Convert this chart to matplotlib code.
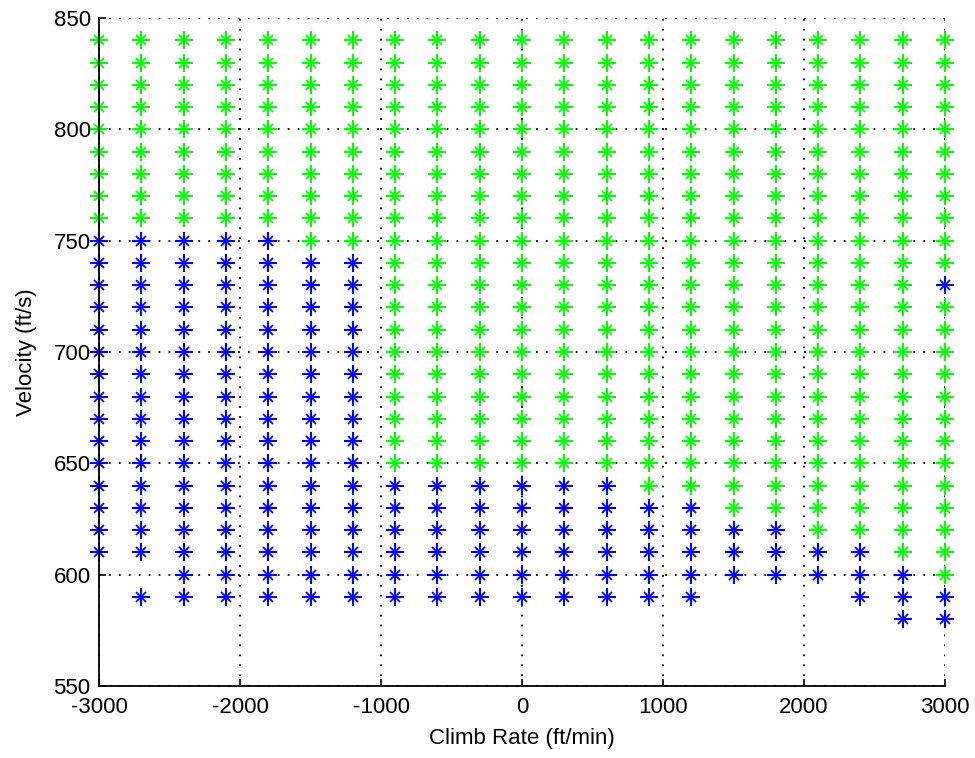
import matplotlib
matplotlib.use("Agg")
import matplotlib.pyplot as plt

# Climb rates (columns) and velocities (rows) of the evaluated grid
climb_rates = [-3000, -2700, -2400, -2100, -1800, -1500, -1200, -900, -600, -300,
               0, 300, 600, 900, 1200, 1500, 1800, 2100, 2400, 2700, 3000]
velocities = [840, 830, 820, 810, 800, 790, 780, 770, 760, 750, 740, 730, 720, 710,
              700, 690, 680, 670, 660, 650, 640, 630, 620, 610, 600, 590, 580]

# Status of each grid point: G = green, B = blue, . = no point
status_rows = [
    "GGGGGGGGGGGGGGGGGGGGG",  # 840
    "GGGGGGGGGGGGGGGGGGGGG",  # 830
    "GGGGGGGGGGGGGGGGGGGGG",  # 820
    "GGGGGGGGGGGGGGGGGGGGG",  # 810
    "GGGGGGGGGGGGGGGGGGGGG",  # 800
    "GGGGGGGGGGGGGGGGGGGGG",  # 790
    "GGGGGGGGGGGGGGGGGGGGG",  # 780
    "GGGGGGGGGGGGGGGGGGGGG",  # 770
    "GGGGGGGGGGGGGGGGGGGGG",  # 760
    "BBBBBGGGGGGGGGGGGGGGG",  # 750
    "BBBBBBBGGGGGGGGGGGGGG",  # 740
    "BBBBBBBGGGGGGGGGGGGGB",  # 730
    "BBBBBBBGGGGGGGGGGGGGG",  # 720
    "BBBBBBBGGGGGGGGGGGGGG",  # 710
    "BBBBBBBGGGGGGGGGGGGGG",  # 700
    "BBBBBBBGGGGGGGGGGGGGG",  # 690
    "BBBBBBBGGGGGGGGGGGGGG",  # 680
    "BBBBBBBGGGGGGGGGGGGGG",  # 670
    "BBBBBBBGGGGGGGGGGGGGG",  # 660
    "BBBBBBBGGGGGGGGGGGGGG",  # 650
    "BBBBBBBBBBBBBGGGGGGGG",  # 640
    "BBBBBBBBBBBBBBBGGGGGG",  # 630
    "BBBBBBBBBBBBBBBBBGGGG",  # 620
    "BBBBBBBBBBBBBBBBBBBGG",  # 610
    "..BBBBBBBBBBBBBBBBBBG",  # 600
    ".BBBBBBBBBBBBBB...BBB",  # 590
    "...................BB",  # 580
]

x_ticks = [-3000, -2000, -1000, 0, 1000, 2000, 3000]
y_ticks = [550, 600, 650, 700, 750, 800, 850]

green_x, green_y, blue_x, blue_y = [], [], [], []
for v, row in zip(velocities, status_rows):
    for c, ch in zip(climb_rates, row):
        if ch == "G":
            green_x.append(c); green_y.append(v)
        elif ch == "B":
            blue_x.append(c); blue_y.append(v)

plt.rcParams['font.family'] = ['Liberation Sans', 'DejaVu Sans']

fig = plt.figure(figsize=(9.75, 7.58), dpi=100)
ax = fig.add_axes([99/975, 72/758, 846/975, 668/758])

for xs, ys, col in [(green_x, green_y, '#00ff00'), (blue_x, blue_y, '#0000ff')]:
    ax.plot(xs, ys, linestyle='none', marker='+', markersize=12.5, markeredgewidth=1.5,
            color=col, clip_on=False, zorder=3)
    ax.plot(xs, ys, linestyle='none', marker='x', markersize=7.5, markeredgewidth=1.3,
            color=col, clip_on=False, zorder=3)

ax.set_xlim(-3000, 3000)
ax.set_ylim(550, 850)
ax.set_xticks(x_ticks)
ax.set_yticks(y_ticks)
ax.set_xticklabels([str(t) for t in x_ticks])
ax.set_yticklabels([str(t) for t in y_ticks])

ax.grid(True, color='black', linestyle=(0, (1, 4.5)), linewidth=1.3)
ax.set_axisbelow(True)

for s in ['top', 'right']:
    ax.spines[s].set_visible(False)
for s in ['left', 'bottom']:
    ax.spines[s].set_linewidth(1.3)
    ax.spines[s].set_zorder(4)

ax.tick_params(direction='in', length=5, width=1.2, labelsize=16,
               top=False, right=False)
ax.tick_params(axis='x', pad=8)
ax.tick_params(axis='y', pad=6)

ax.set_xlabel('Climb Rate (ft/min)', fontsize=16, labelpad=7)
ax.set_ylabel('Velocity (ft/s)', fontsize=16, labelpad=12)

fig.savefig('out.png', dpi=100)
